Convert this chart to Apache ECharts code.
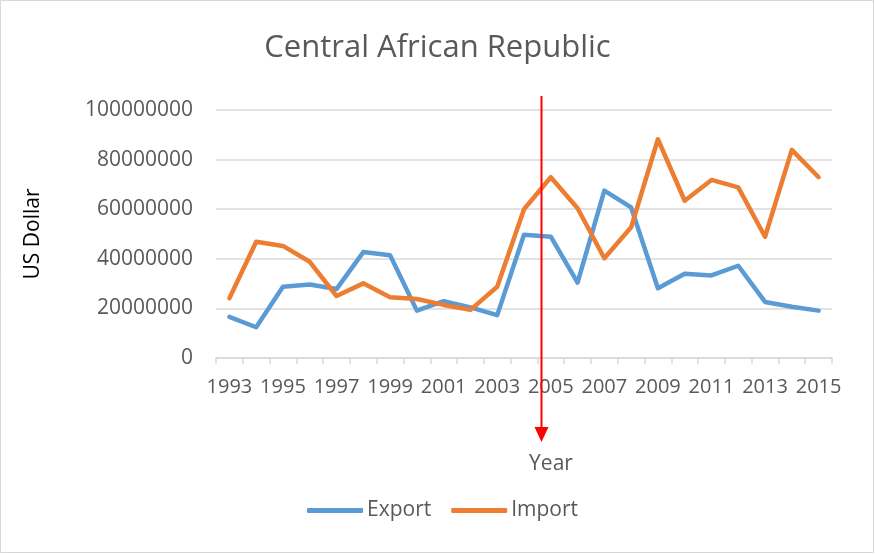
<!DOCTYPE html>
<html>
<head>
<meta charset="utf-8">
<script src="https://cdn.jsdelivr.net/npm/echarts@6/dist/echarts.min.js"></script>
<style>
  html, body { margin: 0; padding: 0; background: #fff; }
  #chart { width: 875px; height: 554px; }
</style>
</head>
<body>
<div id="chart"></div>
<script>
var years = ['1993', '1994', '1995', '1996', '1997', '1998', '1999', '2000', '2001', '2002', '2003', '2004',
  '2005', '2006', '2007', '2008', '2009', '2010', '2011', '2012', '2013', '2014', '2015'];
var exportValues = [16600000, 12400000, 28700000, 29600000, 27800000, 42700000, 41400000, 19100000, 22900000,
  20400000, 17300000, 49700000, 48900000, 30400000, 67500000, 60700000, 28100000, 34000000, 33300000,
  37200000, 22600000, 20700000, 19100000];
var importValues = [24100000, 46900000, 45200000, 38800000, 25000000, 30100000, 24500000, 23800000, 21400000,
  19400000, 28700000, 60000000, 72900000, 60400000, 40200000, 52700000, 88200000, 63400000, 71800000,
  68800000, 48900000, 83900000, 72900000];

var font = '"Open Sans", "Noto Sans", sans-serif';
var grey = '#595959';

var chart = echarts.init(document.getElementById('chart'));
var option = {
  backgroundColor: '#fff',
  animation: false,
  title: {
    text: 'Central African Republic',
    left: 'center',
    top: 28,
    textStyle: { fontFamily: font, fontSize: 31, fontWeight: 'normal', color: grey }
  },
  legend: {
    top: 500,
    left: 307,
    padding: 0,
    itemWidth: 56,
    itemHeight: 5,
    itemGap: 20,
    icon: 'roundRect',
    textStyle: { fontFamily: font, fontSize: 21, color: grey, padding: [0, 0, 0, -1] },
    data: ['Export', 'Import']
  },
  grid: { left: 216, right: 43, top: 110, bottom: 196 },
  xAxis: {
    type: 'category',
    data: years,
    boundaryGap: true,
    name: 'Year',
    nameLocation: 'middle',
    nameGap: 96,
    nameTextStyle: { fontFamily: font, fontSize: 21, color: grey, padding: [0, 0, 0, 54] },
    axisLine: { lineStyle: { color: '#D9D9D9', width: 1.5 } },
    axisTick: { show: true, interval: 0, length: 6, lineStyle: { color: '#D9D9D9', width: 1.5 } },
    axisLabel: { interval: 1, fontFamily: font, fontSize: 20, color: grey, margin: 19 }
  },
  yAxis: {
    type: 'value',
    min: 0,
    max: 100000000,
    interval: 20000000,
    name: 'US Dollar',
    nameLocation: 'middle',
    nameGap: 172,
    nameRotate: 90,
    nameTextStyle: { fontFamily: font, fontSize: 21, color: '#000' },
    axisLine: { show: false },
    axisTick: { show: false },
    axisLabel: {
      fontFamily: font, fontSize: 21, color: grey, margin: 23,
      formatter: function (v) { return String(v); }
    },
    splitLine: { lineStyle: { color: '#D9D9D9', width: 1.5 } }
  },
  series: [
    {
      name: 'Export', type: 'line', data: exportValues, symbol: 'none',
      itemStyle: { color: '#5B9BD5' },
      lineStyle: { color: '#5B9BD5', width: 4.5, cap: 'round', join: 'round' }
    },
    {
      name: 'Import', type: 'line', data: importValues, symbol: 'none',
      itemStyle: { color: '#ED7D31' },
      lineStyle: { color: '#ED7D31', width: 4.5, cap: 'round', join: 'round' }
    }
  ]
};
chart.setOption(option);

// red arrow marker, placed a bit before 2005 on the category axis
var p04 = chart.convertToPixel({ xAxisIndex: 0 }, '2004');
var p05 = chart.convertToPixel({ xAxisIndex: 0 }, '2005');
var ax = Math.round(p04 + 0.62 * (p05 - p04)) + 0.5;
chart.setOption({
  graphic: [
    {
      type: 'rect', silent: true,
      shape: { x: 0.5, y: 0.5, width: 873, height: 552 },
      style: { fill: null, stroke: '#D9D9D9', lineWidth: 1 }
    },
    {
      type: 'line', silent: true, z: 100,
      shape: { x1: ax, y1: 96, x2: ax, y2: 430 },
      style: { stroke: '#FF0000', lineWidth: 2 }
    },
    {
      type: 'polygon', silent: true, z: 100,
      shape: { points: [[ax - 7, 427], [ax + 7, 427], [ax, 442]] },
      style: { fill: '#FF0000' }
    }
  ]
});
</script>
</body>
</html>
